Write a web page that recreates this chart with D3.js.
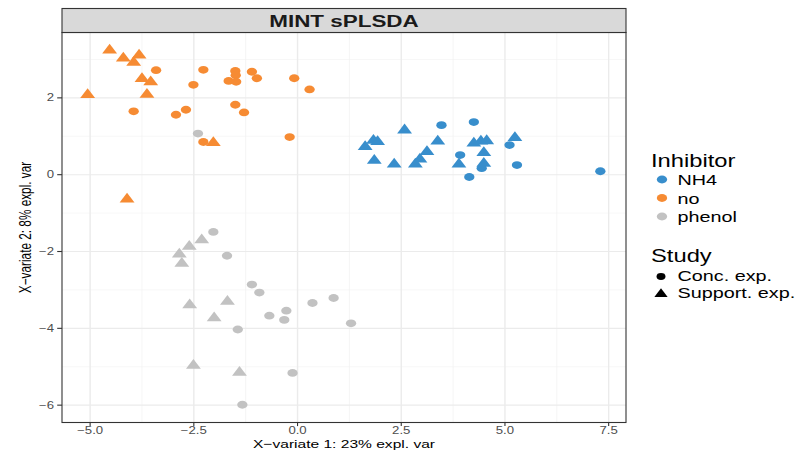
<!DOCTYPE html>
<html>
<head>
<meta charset="utf-8">
<script src="https://cdn.jsdelivr.net/npm/d3@7"></script>
<style>
  body { margin: 0; background: #fff; }
  svg { display: block; font-family: "Liberation Sans", Arial, sans-serif; }
</style>
</head>
<body>
<div id="chart"></div>
<script>
// component scores [x-variate 1, x-variate 2], one list per inhibitor / study
const nh4Conc = [[3.47, 1.29], [4.25, 1.37], [3.92, 0.51], [4.14, -0.06], [4.44, 0.17],
  [5.29, 0.25], [5.11, 0.77], [7.30, 0.09]];
const nh4Support = [[2.58, 1.16], [1.63, 0.73], [1.83, 0.89], [1.93, 0.86], [1.85, 0.37],
  [2.33, 0.27], [2.84, 0.27], [2.95, 0.40], [3.12, 0.60], [3.38, 0.87], [3.89, 0.27],
  [4.25, 0.82], [4.42, 0.87], [4.56, 0.88], [4.49, 0.57], [4.49, 0.29], [5.24, 0.96]];
const noConc = [[-3.41, 2.72], [-2.27, 2.73], [-1.50, 2.70], [-1.49, 2.59], [-1.66, 2.44],
  [-1.48, 2.42], [-1.10, 2.68], [-0.98, 2.51], [-0.08, 2.51], [0.29, 2.22], [-2.51, 2.34],
  [-3.95, 1.65], [-2.69, 1.69], [-2.93, 1.56], [-1.50, 1.82], [-1.29, 1.62], [-0.19, 0.98],
  [-2.27, 0.85]];
const noSupport = [[-4.53, 3.24], [-4.20, 3.03], [-3.82, 3.11], [-3.95, 2.92], [-3.75, 2.50],
  [-3.54, 2.41], [-3.63, 2.09], [-5.06, 2.08], [-2.03, 0.83], [-4.11, -0.64]];
const phenolConc = [[-2.40, 1.07], [-2.03, -1.49], [-1.70, -2.11], [-1.10, -2.86], [-0.92, -3.07],
  [0.36, -3.34], [0.87, -3.21], [-0.27, -3.54], [-0.68, -3.67], [-0.32, -3.78], [1.29, -3.87],
  [-1.44, -4.03], [-0.12, -5.16], [-1.33, -5.99]];
const phenolSupport = [[-2.31, -1.70], [-2.61, -1.87], [-2.85, -2.07], [-2.79, -2.31],
  [-2.60, -3.39], [-1.69, -3.30], [-2.01, -3.73], [-2.51, -4.97], [-1.40, -5.15]];

const inhibitors = ["NH4", "no", "phenol"];
const studies = ["Conc. exp.", "Support. exp."];
const xTicks = [-5, -2.5, 0, 2.5, 5, 7.5];
const yTicks = [-6, -4, -2, 0, 2];

const series = [
  {inhibitor: "NH4", study: "Conc. exp.", pts: nh4Conc},
  {inhibitor: "no", study: "Conc. exp.", pts: noConc},
  {inhibitor: "phenol", study: "Conc. exp.", pts: phenolConc},
  {inhibitor: "NH4", study: "Support. exp.", pts: nh4Support},
  {inhibitor: "no", study: "Support. exp.", pts: noSupport},
  {inhibitor: "phenol", study: "Support. exp.", pts: phenolSupport}
];

const colors = {"NH4": "#388ECC", "no": "#F68B33", "phenol": "#C2C2C2"};
const shapes = {"Conc. exp.": d3.symbolCircle, "Support. exp.": d3.symbolTriangle};
const sizes = {"Conc. exp.": 48, "Support. exp.": 55};

const width = 799, height = 452;
const SX = 1.32; // the picture is wider than it is tall
const panel = {left: 62, right: 626, top: 32.5, bottom: 422.5};

const svg = d3.select("#chart").append("svg")
    .attr("width", width)
    .attr("height", height);

const allPts = series.flatMap(s => s.pts);
const xExt = d3.extent(allPts, d => d[0]);
const yExt = d3.extent(allPts, d => d[1]);
const xPad = (xExt[1] - xExt[0]) * 0.05;
const yPad = (yExt[1] - yExt[0]) * 0.05;

const x = d3.scaleLinear()
    .domain([xExt[0] - xPad, xExt[1] + xPad])
    .range([panel.left, panel.right]);
const y = d3.scaleLinear()
    .domain([yExt[0] - yPad, yExt[1] + yPad])
    .range([panel.bottom, panel.top]);

const minor = (ticks, dom) => {
    const step = ticks[1] - ticks[0];
    const out = [];
    for (let v = ticks[0] - step / 2; v <= dom[1]; v += step) {
        if (v >= dom[0]) out.push(v);
    }
    return out;
};

// grid
const grid = svg.append("g");
grid.selectAll("line.xminor")
    .data(minor(xTicks, x.domain()))
    .enter().append("line")
    .attr("x1", d => x(d)).attr("x2", d => x(d))
    .attr("y1", panel.top).attr("y2", panel.bottom)
    .attr("stroke", "#F2F2F2").attr("stroke-width", 0.8);
grid.selectAll("line.yminor")
    .data(minor(yTicks, y.domain()))
    .enter().append("line")
    .attr("x1", panel.left).attr("x2", panel.right)
    .attr("y1", d => y(d)).attr("y2", d => y(d))
    .attr("stroke", "#F2F2F2").attr("stroke-width", 0.6);
grid.selectAll("line.xmajor")
    .data(xTicks)
    .enter().append("line")
    .attr("x1", d => x(d)).attr("x2", d => x(d))
    .attr("y1", panel.top).attr("y2", panel.bottom)
    .attr("stroke", "#EBEBEB").attr("stroke-width", 1.4);
grid.selectAll("line.ymajor")
    .data(yTicks)
    .enter().append("line")
    .attr("x1", panel.left).attr("x2", panel.right)
    .attr("y1", d => y(d)).attr("y2", d => y(d))
    .attr("stroke", "#EBEBEB").attr("stroke-width", 1.1);

// points
const sym = d3.symbol();
series.forEach(s => {
    svg.append("g").selectAll("path")
        .data(s.pts)
        .enter().append("path")
        .attr("d", sym.type(shapes[s.study]).size(sizes[s.study])())
        .attr("transform", d => `translate(${x(d[0])},${y(d[1])}) scale(${SX},1)`)
        .attr("fill", colors[s.inhibitor]);
});

// panel border
svg.append("rect")
    .attr("x", panel.left).attr("y", panel.top)
    .attr("width", panel.right - panel.left)
    .attr("height", panel.bottom - panel.top)
    .attr("fill", "none")
    .attr("stroke", "#333333")
    .attr("stroke-width", 1.1);

// strip
svg.append("rect")
    .attr("x", panel.left).attr("y", 8.5)
    .attr("width", panel.right - panel.left)
    .attr("height", panel.top - 8.5)
    .attr("fill", "#D9D9D9")
    .attr("stroke", "#333333")
    .attr("stroke-width", 1.1);

function stretchedText(g, tx, ty, str, size, anchor, opts = {}) {
    return g.append("text")
        .attr("transform", `translate(${tx},${ty}) scale(${SX},1)`)
        .attr("text-anchor", anchor)
        .attr("font-size", size)
        .attr("font-weight", opts.bold ? "bold" : null)
        .attr("fill", opts.fill || "#000")
        .text(str);
}

stretchedText(svg, (panel.left + panel.right) / 2, 26.5, "MINT sPLSDA", 17, "middle", {bold: true, fill: "#1A1A1A"});

const fmtX = d => d3.format(".1f")(d).replace("-", "\u2212");
const fmtY = d => String(d).replace("-", "\u2212");

// x axis ticks + labels
const xa = svg.append("g");
xa.selectAll("line")
    .data(xTicks)
    .enter().append("line")
    .attr("x1", d => x(d)).attr("x2", d => x(d))
    .attr("y1", panel.bottom).attr("y2", panel.bottom + 3.6)
    .attr("stroke", "#333333").attr("stroke-width", 1.1);
xTicks.forEach(t => stretchedText(xa, x(t), 434, fmtX(t), 10, "middle", {fill: "#4D4D4D"}));

// y axis ticks + labels
const ya = svg.append("g");
ya.selectAll("line")
    .data(yTicks)
    .enter().append("line")
    .attr("x1", panel.left - 4.8).attr("x2", panel.left)
    .attr("y1", d => y(d)).attr("y2", d => y(d))
    .attr("stroke", "#333333").attr("stroke-width", 1.1);
yTicks.forEach(t => stretchedText(ya, panel.left - 8, y(t) + 3.6, fmtY(t), 10, "end", {fill: "#4D4D4D"}));

// axis titles
stretchedText(svg, (panel.left + panel.right) / 2, 448, "X\u2212variate 1: 23% expl. var", 11.8, "middle");
svg.append("text")
    .attr("transform", `translate(31,${(panel.top + panel.bottom) / 2}) rotate(-90) scale(1,${SX})`)
    .attr("text-anchor", "middle")
    .attr("font-size", 11.8)
    .text("X\u2212variate 2: 8% expl. var");

// legend
const legend = svg.append("g");
stretchedText(legend, 651, 166.5, "Inhibitor", 18, "start");
inhibitors.forEach((k, i) => {
    const ky = 179.5 + i * 18.5;
    legend.append("path")
        .attr("d", d3.symbol().type(d3.symbolCircle).size(48)())
        .attr("transform", `translate(662,${ky}) scale(${SX},1)`)
        .attr("fill", colors[k]);
    stretchedText(legend, 677.5, ky + 5.5, k, 15, "start");
});
stretchedText(legend, 651, 261.7, "Study", 18, "start");
studies.forEach((k, i) => {
    const ky = 276.5 + i * 17.5;
    legend.append("path")
        .attr("d", d3.symbol().type(shapes[k]).size(k === "Conc. exp." ? 36 : 44)())
        .attr("transform", `translate(661,${ky}) scale(${SX},1)`)
        .attr("fill", "#000");
    stretchedText(legend, 677.5, ky + 4, k, 15, "start");
});
</script>
</body>
</html>
